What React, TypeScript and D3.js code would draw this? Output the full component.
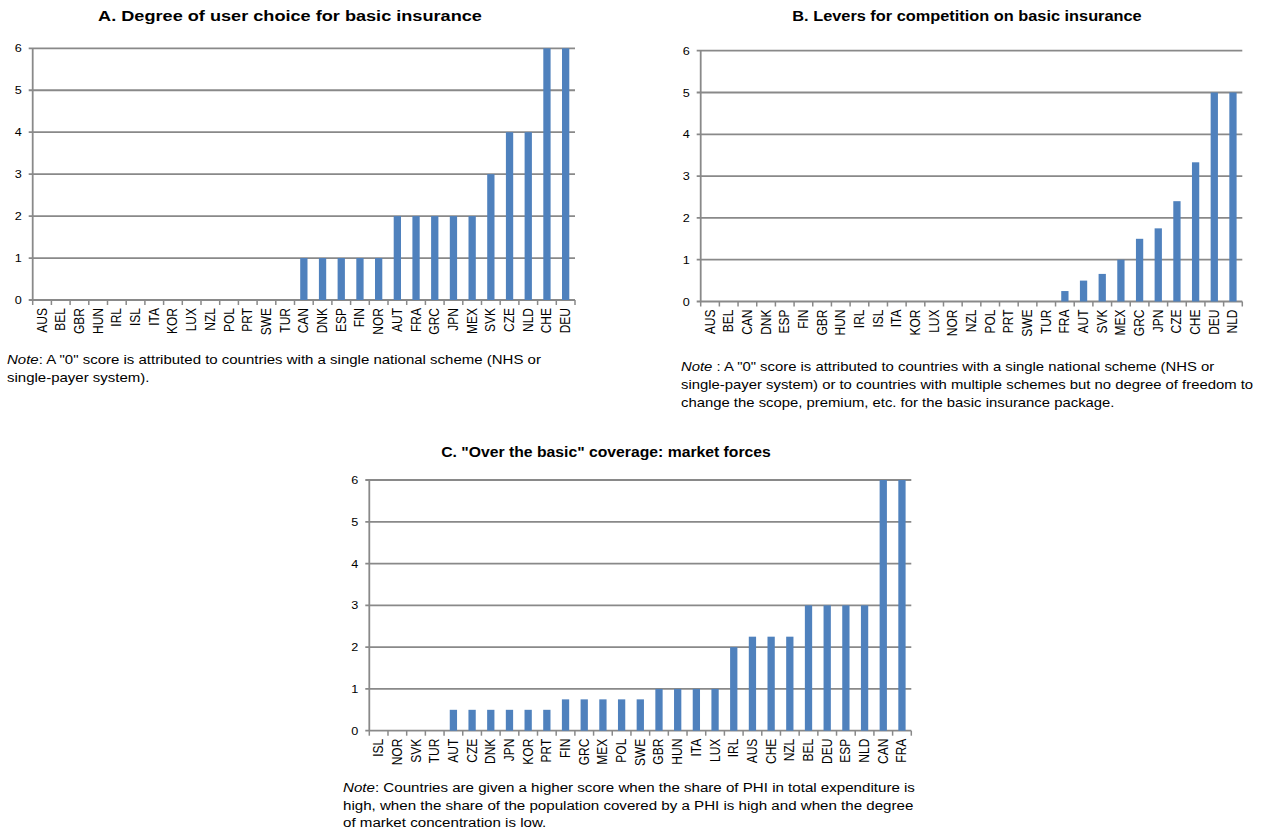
import React from "react";
import * as d3 from "d3";

const catsA = ["AUS","BEL","GBR","HUN","IRL","ISL","ITA","KOR","LUX","NZL","POL","PRT","SWE","TUR","CAN","DNK","ESP","FIN","NOR","AUT","FRA","GRC","JPN","MEX","SVK","CZE","NLD","CHE","DEU"];
const valsA = [0,0,0,0,0,0,0,0,0,0,0,0,0,0,1,1,1,1,1,2,2,2,2,2,3,4,4,6,6];

const catsB = ["AUS","BEL","CAN","DNK","ESP","FIN","GBR","HUN","IRL","ISL","ITA","KOR","LUX","NOR","NZL","POL","PRT","SWE","TUR","FRA","AUT","SVK","MEX","GRC","JPN","CZE","CHE","DEU","NLD"];
const valsB = [0,0,0,0,0,0,0,0,0,0,0,0,0,0,0,0,0,0,0,0.25,0.5,0.66,1,1.5,1.75,2.4,3.33,5,5];

const catsC = ["ISL","NOR","SVK","TUR","AUT","CZE","DNK","JPN","KOR","PRT","FIN","GRC","MEX","POL","SWE","GBR","HUN","ITA","LUX","IRL","AUS","CHE","NZL","BEL","DEU","ESP","NLD","CAN","FRA"];
const valsC = [0,0,0,0,0.5,0.5,0.5,0.5,0.5,0.5,0.75,0.75,0.75,0.75,0.75,1,1,1,1,2,2.25,2.25,2.25,3,3,3,3,6,6];

const yTicks = [0,1,2,3,4,5,6];

const titleA = "A. Degree of user choice for basic insurance";
const titleB = "B. Levers for competition on basic insurance";
const titleC = "C. \"Over the basic\" coverage: market forces";

const noteA = ["A \"0\" score is attributed to countries with a single national scheme (NHS or", "single-payer system)."];
const noteB = ["A \"0\" score is attributed to countries with a single national scheme (NHS or", "single-payer system) or to countries with multiple schemes but no degree of freedom to", "change the scope, premium, etc. for the basic insurance package."];
const noteC = ["Countries are given a higher score when the share of PHI in total expenditure is", "high, when the share of the population covered by a PHI is high and when the degree", "of market concentration is low."];

const FONT = "'Liberation Sans', Arial, sans-serif";
const GRID = "#898989";
const BAR = "#4F81BD";

type PanelProps = {
  cats: string[]; vals: number[]; x0: number; x1: number; yTop: number; yZero: number;
  title: string; titleX: number; titleY: number; titleSize: number; titleSx: number;
  note: string[]; noteX: number; noteY: number; noteDy: number; noteSep: string; noteSx: number;
};

function Panel(p: PanelProps) {
  const x = d3.scaleBand<string>().domain(p.cats).range([p.x0, p.x1]).padding(0);
  const y = d3.scaleLinear().domain([0, 6]).range([p.yZero, p.yTop]);
  const bw = x.bandwidth();
  const barW = bw * 0.39;
  return (
    <g>
      <text transform={`translate(${p.titleX},${p.titleY}) scale(${p.titleSx},1)`} textAnchor="middle" fontFamily={FONT} fontWeight="bold" fontSize={p.titleSize} fill="#000">{p.title}</text>
      {yTicks.map((t) => (
        <g key={t}>
          <line x1={p.x0 - 4} x2={p.x1} y1={y(t)} y2={y(t)} stroke={GRID} strokeWidth={1.8} />
          <text transform={`translate(${p.x0 - 11},${y(t) + 4}) scale(1.1,1)`} textAnchor="end" fontFamily={FONT} fontSize={11.5} fill="#000">{t}</text>
        </g>
      ))}
      <line x1={p.x0} x2={p.x0} y1={p.yTop} y2={p.yZero} stroke={GRID} strokeWidth={1.8} />
      {p.cats.map((c, i) => (
        <line key={"t" + c} x1={p.x0 + i * bw + bw} x2={p.x0 + i * bw + bw} y1={p.yZero} y2={p.yZero + 5} stroke={GRID} strokeWidth={1.5} />
      ))}
      <line x1={p.x0} x2={p.x0} y1={p.yZero} y2={p.yZero + 5} stroke={GRID} strokeWidth={1.5} />
      {p.cats.map((c, i) => {
        const v = p.vals[i];
        if (v <= 0) return null;
        return (
          <rect key={"b" + c} x={(x(c) as number) + (bw - barW) / 2} width={barW} y={y(v)} height={y(0) - y(v)} fill={BAR} />
        );
      })}
      {p.cats.map((c) => {
        const cx = (x(c) as number) + bw / 2 + 4.5;
        const cy = p.yZero + 8;
        return (
          <text key={"l" + c} transform={`translate(${cx},${cy}) scale(1.15,1) rotate(-90)`} textAnchor="end" fontFamily={FONT} fontSize={12} fill="#000">{c}</text>
        );
      })}
      {p.note.map((line, i) => (
        <text key={"n" + i} transform={`translate(${p.noteX},${p.noteY + i * p.noteDy}) scale(${p.noteSx},1)`} fontFamily={FONT} fontSize={12.5} fill="#000">
          {i === 0 ? (<><tspan fontStyle="italic">Note</tspan>{p.noteSep}{line}</>) : line}
        </text>
      ))}
    </g>
  );
}

export default function App() {
  return (
    <svg width={1271} height={838} style={{ position: "absolute", left: 0, top: 0, background: "#fff" }}>
      <rect x={0} y={0} width={1271} height={838} fill="#fff" />
      <Panel cats={catsA} vals={valsA} x0={32.7} x1={575} yTop={48.3} yZero={300}
        title={titleA} titleX={290} titleY={21} titleSize={15.5} titleSx={1.17}
        note={noteA} noteX={7} noteY={364} noteDy={17.5} noteSep=":  " noteSx={1.2} />
      <Panel cats={catsB} vals={valsB} x0={700.7} x1={1242.3} yTop={50.7} yZero={301.5}
        title={titleB} titleX={967} titleY={21} titleSize={15} titleSx={1.09}
        note={noteB} noteX={681} noteY={371} noteDy={18} noteSep=" : " noteSx={1.19} />
      <Panel cats={catsC} vals={valsC} x0={369.3} x1={911.3} yTop={480} yZero={730.7}
        title={titleC} titleX={606} titleY={457} titleSize={15} titleSx={1.05}
        note={noteC} noteX={343} noteY={792} noteDy={17.5} noteSep=":  " noteSx={1.21} />
    </svg>
  );
}
